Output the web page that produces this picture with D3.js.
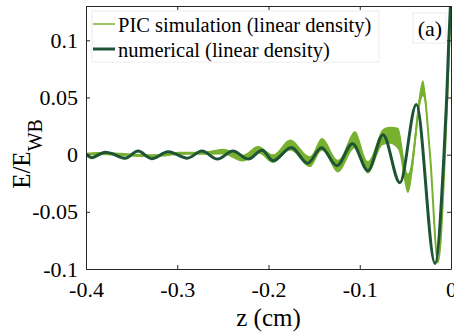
<!DOCTYPE html>
<html>
<head>
<meta charset="utf-8">
<script src="https://cdn.jsdelivr.net/npm/d3@7"></script>
<style>
  body { margin: 0; background: #fff; }
  svg, svg text { font-family: "Liberation Serif", "Times New Roman", serif; fill: #000; }
</style>
</head>
<body>
<script>
// E/E_WB versus z, PIC vs numerical wakefield (linear density)

// numerical curve (z in cm, E/E_WB)
var numZ = [-0.400, -0.394, -0.379, -0.373, -0.357, -0.343, -0.328, -0.310, -0.289, -0.273,
            -0.256, -0.239, -0.222, -0.207, -0.195, -0.175, -0.157, -0.142, -0.125, -0.108,
            -0.091, -0.0745, -0.056, -0.038, -0.0175, -0.0077, -0.0047, -0.0025, 0];
var numE = [0.0004, -0.0026, 0.0022, 0.0013, -0.0031, 0.0031, -0.0035, 0.0026, -0.0031, 0.0031,
            -0.0039, 0.0031, -0.0039, 0.0039, -0.0053, 0.0062, -0.0075, 0.0061, -0.0096, 0.0096,
            -0.0140, 0.0175, -0.0246, 0.0439, -0.0952, 0.0, 0.050, 0.098, 0.140];

// PIC curve: centre of the noisy band and its half width
var picZ = [-0.400, -0.385, -0.370, -0.355, -0.340, -0.325, -0.310, -0.295, -0.275, -0.262,
            -0.250, -0.228, -0.2115, -0.195, -0.1764, -0.1545, -0.1414, -0.1238, -0.1052, -0.091,
            -0.0745, -0.067, -0.058, -0.0471, -0.0307, -0.023, -0.0142, -0.0066, -0.0036, 0];
var picE = [0.0003, 0.0010, 0.0006, 0.0000, -0.0008, -0.0010, 0.0002, 0.0012, 0.0012, 0.0018,
            0.0026, -0.0030, 0.0044, -0.0035, 0.0085, -0.0060, 0.0090, -0.0100, 0.0130, -0.0110,
            0.0155, 0.0170, 0.0140, -0.0250, 0.0580, 0.0000, -0.0935, 0.0000, 0.060, 0.140];
var picSpread = [0.0013, 0.0013, 0.0013, 0.0013, 0.0013, 0.0013, 0.0013, 0.0013, 0.0013, 0.0018,
                 0.0025, 0.0030, 0.0032, 0.0038, 0.0048, 0.0048, 0.0055, 0.0055, 0.0075, 0.0055,
                 0.0070, 0.0075, 0.0095, 0.0085, 0.0070, 0.0040, 0.0020, 0.0015, 0.0015, 0.0015];

var xTicks = [-0.4, -0.3, -0.2, -0.1, 0];
var yTicks = [-0.1, -0.05, 0, 0.05, 0.1];
var seriesNames = ["PIC simulation (linear density)", "numerical (linear density)"];
var seriesColors = ["#78b02f", "#1e5436"];

var W = 454, H = 336;
var m = {left: 86, right: 451, top: 6, bottom: 269};
var serif = "'Liberation Serif', 'Times New Roman', serif";

var svg = d3.select("body").append("svg")
    .attr("width", W)
    .attr("height", H)
    .attr("font-family", serif);

var x = d3.scaleLinear().domain([-0.4, 0]).range([m.left, m.right]);
var y = d3.scaleLinear().domain([-0.1, 0.13]).range([m.bottom, m.top]);

svg.append("clipPath").attr("id", "plot")
  .append("rect")
  .attr("x", m.left).attr("y", m.top)
  .attr("width", m.right - m.left).attr("height", m.bottom - m.top);

var pic = picZ.map(function(z, i) { return {z: z, e: picE[i], s: picSpread[i]}; });
var num = numZ.map(function(z, i) { return {z: z, e: numE[i]}; });

var g = svg.append("g").attr("clip-path", "url(#plot)");

// PIC band
g.append("path")
  .datum(pic)
  .attr("fill", seriesColors[0])
  .attr("d", d3.area()
    .x(function(d) { return x(d.z); })
    .y0(function(d) { return y(d.e - d.s); })
    .y1(function(d) { return y(d.e + d.s); })
    .curve(d3.curveMonotoneX));

g.append("path")
  .datum(pic)
  .attr("fill", "none")
  .attr("stroke", seriesColors[0])
  .attr("stroke-width", 2)
  .attr("d", d3.line()
    .x(function(d) { return x(d.z); })
    .y(function(d) { return y(d.e); })
    .curve(d3.curveMonotoneX));

// numerical
g.append("path")
  .datum(num)
  .attr("fill", "none")
  .attr("stroke", seriesColors[1])
  .attr("stroke-width", 3)
  .attr("stroke-linejoin", "round")
  .attr("d", d3.line()
    .x(function(d) { return x(d.z); })
    .y(function(d) { return y(d.e); })
    .curve(d3.curveMonotoneX));

// axes, ticks pointing in, on all four sides
var fmt = function(d) { return d === 0 ? "0" : String(d); };

svg.append("g")
  .attr("transform", "translate(0," + m.bottom + ")")
  .call(d3.axisBottom(x).tickValues(xTicks).tickFormat(fmt)
    .tickSizeInner(-4).tickSizeOuter(0).tickPadding(12));
svg.append("g")
  .attr("transform", "translate(" + m.left + ",0)")
  .call(d3.axisLeft(y).tickValues(yTicks).tickFormat(fmt)
    .tickSizeInner(-4).tickSizeOuter(0).tickPadding(8));
svg.append("g")
  .attr("transform", "translate(0," + m.top + ")")
  .call(d3.axisTop(x).tickValues(xTicks).tickFormat("")
    .tickSizeInner(-4).tickSizeOuter(0));
svg.append("g")
  .attr("transform", "translate(" + m.right + ",0)")
  .call(d3.axisRight(y).tickValues(yTicks).tickFormat("")
    .tickSizeInner(-4).tickSizeOuter(0));

svg.selectAll(".domain, .tick line").attr("stroke", "#262626");
svg.selectAll("g").attr("font-family", serif);
svg.selectAll(".tick text")
  .attr("font-family", serif)
  .attr("font-size", 22)
  .attr("fill", "#000");

// axis labels
svg.append("text")
  .attr("x", (m.left + m.right) / 2)
  .attr("y", 326)
  .attr("text-anchor", "middle")
  .attr("font-size", 25)
  .text("z (cm)");

var yl = svg.append("text")
  .attr("transform", "translate(30,154) rotate(-90)")
  .attr("text-anchor", "middle")
  .attr("font-size", 25);
yl.append("tspan").text("E/E");
yl.append("tspan").attr("dy", 12).attr("font-size", 20).text("WB");

// legend
var lg = svg.append("g");
lg.append("rect")
  .attr("x", 92).attr("y", 11).attr("width", 287).attr("height", 51)
  .attr("fill", "#fff").attr("stroke", "#ececec");
[0, 1].forEach(function(i) {
  var ly = 24 + i * 25;
  lg.append("line")
    .attr("x1", 93).attr("x2", 115).attr("y1", ly).attr("y2", ly)
    .attr("stroke", seriesColors[i]).attr("stroke-width", i === 0 ? 1.5 : 3);
  lg.append("text")
    .attr("x", 118).attr("y", ly + 7.5)
    .attr("font-size", 20.5)
    .text(seriesNames[i]);
});

// panel tag
svg.append("rect")
  .attr("x", 413).attr("y", 13).attr("width", 33).attr("height", 30)
  .attr("fill", "#fff").attr("stroke", "#ececec");
svg.append("text")
  .attr("x", 430).attr("y", 35.5)
  .attr("text-anchor", "middle")
  .attr("font-size", 22)
  .text("(a)");
</script>
</body>
</html>
